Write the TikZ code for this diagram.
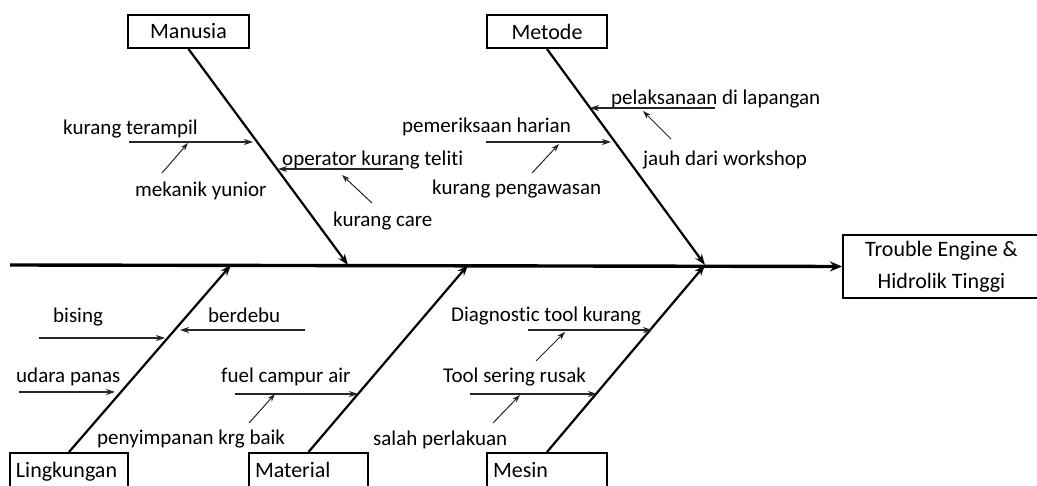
\documentclass[tikz,border=0pt]{standalone}
\usepackage{fontspec}
\setmainfont{Carlito}[Ligatures={NoCommon}]
\usetikzlibrary{arrows.meta}
\begin{document}
\begin{tikzpicture}[x=1pt,y=-1pt,
  lbl/.style={anchor=base west,inner sep=0pt,font=\fontsize{21}{25}\selectfont},
  cat/.style={draw,line width=2pt,inner sep=0pt,font=\fontsize{22}{26}\selectfont},
  catb/.style={cat,minimum height=40pt,align=left,inner xsep=6pt,text height=15pt,text depth=5pt},
  spine/.style={line width=2.2pt,-{Stealth[length=11pt,width=8pt]}},
  mainline/.style={line width=3.4pt,-{Stealth[length=12pt,width=10pt]}},
  sub/.style={line width=1.1pt,draw=black!85,-{Stealth[length=9pt,width=6pt]}},
  small/.style={line width=1pt,draw=black!85,-{Stealth[length=8pt,width=5.5pt]}}]
\useasboundingbox (0,0) rectangle (1037,486);
\clip (0,0) rectangle (1037,486);
\fill[white] (0,0) rectangle (1037,486);

% category boxes
\node[cat,minimum width=121pt,minimum height=33pt] (manusia) at (188.5,31.5) {Manusia};
\node[cat,minimum width=120pt,minimum height=33pt] (metode) at (547,31.5) {Metode};
\node[catb,text width=106pt] (ling) at (69,473) {Lingkungan};
\node[catb,text width=107pt] (mat) at (308.5,473) {Material};
\node[catb,text width=108pt] (mes) at (547,473) {Mesin};
\node[cat,minimum width=197pt,minimum height=63pt,align=center,
      font=\fontsize{22}{32}\selectfont] (trouble) at (941.5,266.5) {Trouble Engine \&\\Hidrolik Tinggi};

% main line and spines
\coordinate (tail) at (10,265);
\coordinate (tipMan) at (348,265);
\coordinate (tipMet) at (705,265);
\coordinate (tipLin) at (231,265);
\coordinate (tipMat) at (468,265);
\coordinate (tipMes) at (705,265);
\draw[mainline] (tail) -- (trouble.west);
\draw[spine] (manusia.south) -- (tipMan);
\draw[spine] (metode.south) -- (tipMet);
\draw[spine] (ling.north) -- (tipLin);
\draw[spine] (mat.north) -- (tipMat);
\draw[spine] (mes.north) -- (tipMes);

% labels
\node[lbl] (t1) at (63,135) {kurang terampil};
\node[lbl] (t2) at (135,197) {mekanik yunior};
\node[lbl] (t3) at (282,166) {operator kurang teliti};
\node[lbl] (t4) at (333,227) {kurang care};
\node[lbl] (t5) at (611,105) {pelaksanaan di lapangan};
\node[lbl] (t6) at (643,166) {jauh dari workshop};
\node[lbl] (t7) at (402,133) {pemeriksaan harian};
\node[lbl] (t8) at (432,195) {kurang pengawasan};
\node[lbl] (t9) at (53,323) {bising};
\node[lbl] (t10) at (208,323) {berdebu};
\node[lbl] (t11) at (16,383) {udara panas};
\node[lbl] (t12) at (221,383) {fuel campur air};
\node[lbl] (t13) at (97,445) {penyimpanan krg baik};
\node[lbl] (t14) at (451,322) {Diagnostic tool kurang};
\node[lbl] (t15) at (443,383) {Tool sering rusak};
\node[lbl] (t16) at (373,446) {salah perlakuan};

% sub-cause arrows (coordinates)
\coordinate (a1a) at (129,142);  \coordinate (a1b) at (253,142);
\coordinate (a1c) at (162,173);  \coordinate (a1d) at (188,143);
\coordinate (a2a) at (403,169);  \coordinate (a2b) at (278,169);
\coordinate (a2c) at (372,203);  \coordinate (a2d) at (342,175);
\coordinate (b1a) at (715,108);  \coordinate (b1b) at (590,108);
\coordinate (b1c) at (671,139);  \coordinate (b1d) at (643,111);
\coordinate (b2a) at (486,142);  \coordinate (b2b) at (611,142);
\coordinate (b2c) at (532,173);  \coordinate (b2d) at (559,144);
\coordinate (c1a) at (39,338);   \coordinate (c1b) at (165,338);
\coordinate (c2a) at (305,330);  \coordinate (c2b) at (180,330);
\coordinate (c3a) at (19,392);   \coordinate (c3b) at (115,392);
\coordinate (d1a) at (235,394);  \coordinate (d1b) at (358,394);
\coordinate (d1c) at (249,423);  \coordinate (d1d) at (275,394);
\coordinate (e1a) at (528,330);  \coordinate (e1b) at (652,330);
\coordinate (e1c) at (536,361);  \coordinate (e1d) at (565,332);
\coordinate (e2a) at (470,394);  \coordinate (e2b) at (597,394);
\coordinate (e2c) at (493,423);  \coordinate (e2d) at (520,395);

\draw[sub] (a1a) -- (a1b);
\draw[small] (a1c) -- (a1d);
\draw[sub] (a2a) -- (a2b);
\draw[small] (a2c) -- (a2d);
\draw[sub] (b1a) -- (b1b);
\draw[small] (b1c) -- (b1d);
\draw[sub] (b2a) -- (b2b);
\draw[small] (b2c) -- (b2d);
\draw[sub] (c1a) -- (c1b);
\draw[sub] (c2a) -- (c2b);
\draw[sub] (c3a) -- (c3b);
\draw[sub] (d1a) -- (d1b);
\draw[small] (d1c) -- (d1d);
\draw[sub] (e1a) -- (e1b);
\draw[small] (e1c) -- (e1d);
\draw[sub] (e2a) -- (e2b);
\draw[small] (e2c) -- (e2d);
\end{tikzpicture}
\end{document}
